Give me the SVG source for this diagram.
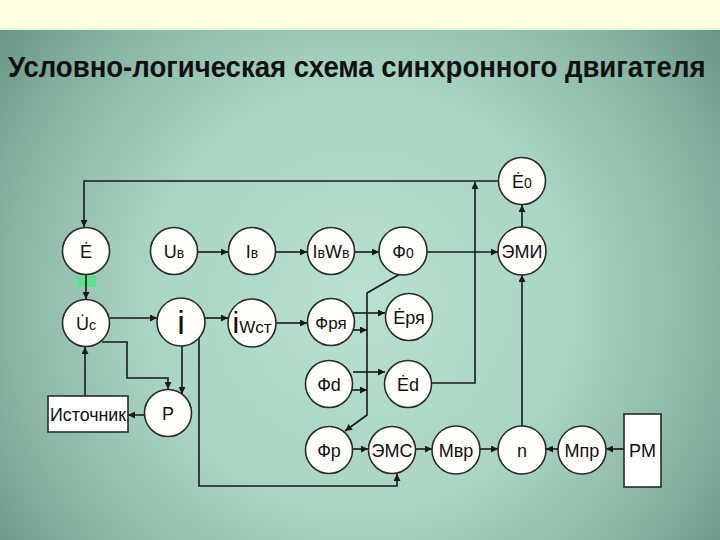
<svg xmlns="http://www.w3.org/2000/svg" width="720" height="540" viewBox="0 0 720 540">
  <defs>
    <radialGradient id="bg" gradientUnits="userSpaceOnUse" cx="360" cy="300" r="470">
      <stop offset="0" stop-color="#b8e1cf"/>
      <stop offset="0.45" stop-color="#a9d5c2"/>
      <stop offset="0.75" stop-color="#89b5a3"/>
      <stop offset="1" stop-color="#63907e"/>
    </radialGradient>
    <marker id="ah" viewBox="0 0 10 10" refX="10" refY="5" markerWidth="9" markerHeight="7" markerUnits="userSpaceOnUse" orient="auto">
      <path d="M0,0 L10,5 L0,10 Z" fill="#1a1a1a"/>
    </marker>
  </defs>
  <style>
    .n circle { fill: #fffffa; stroke: #2a2a2a; stroke-width: 1.6; }
    .n rect { fill: #ffffff; stroke: #2a2a2a; stroke-width: 1.6; }
    text { font-family: "Liberation Sans", Arial, sans-serif; fill: #111; }
    .lb { font-size: 18px; text-anchor: middle; }
    .sm { font-size: 14px; }
    #edges path { fill: none; stroke: #1a1a1a; stroke-width: 1.6; }
    #edges path.a { marker-end: url(#ah); }
  </style>

  <rect x="0" y="0" width="720" height="540" fill="url(#bg)"/>
  <rect x="0" y="0" width="720" height="28" fill="#ffffe0"/>
  <rect x="0" y="28" width="720" height="2" fill="#eef2d8"/>
  <rect x="77" y="276" width="19" height="11" fill="#5fe08c"/>

  <text transform="translate(8,77) scale(0.93,1)" x="0" y="0" style="font-size:29px;font-weight:bold" textLength="750" lengthAdjust="spacingAndGlyphs">Условно-логическая схема синхронного двигателя</text>

  <g id="edges">
    <path class="a" d="M498,181 H84 V227"/>
    <path class="a" d="M86,274 V299"/>
    <path class="a" d="M198,252 H228"/>
    <path class="a" d="M276,252 H307"/>
    <path class="a" d="M355,252 H379"/>
    <path class="a" d="M427,252 H498"/>
    <path class="a" d="M522,227 V205"/>
    <path class="a" d="M522,426 V275"/>
    <path class="a" d="M432,383 H475 V182"/>
    <path class="a" d="M400,274 L367,293 V415 L345,431"/>
    <path class="a" d="M353,313 H385"/>
    <path class="a" d="M349,330 H367"/>
    <path class="a" d="M353,372 H385"/>
    <path class="a" d="M352,390 H367"/>
    <path class="a" d="M110,318 H157"/>
    <path class="a" d="M205,318 H228"/>
    <path class="a" d="M276,323 H307"/>
    <path class="a" d="M102,342 H127 V378 H168 V389"/>
    <path class="a" d="M182,346 V394"/>
    <path class="a" d="M145,415 H128"/>
    <path class="a" d="M85,396 V347"/>
    <path class="a" d="M199,338 V486 H397 V474"/>
    <path class="a" d="M353,449 H368"/>
    <path class="a" d="M416,449 H432"/>
    <path class="a" d="M480,449 H498"/>
    <path class="a" d="M558,449 H546"/>
    <path class="a" d="M624,449 H606"/>
  </g>

  <g id="nE" class="n"><circle cx="86" cy="251" r="23.5"/><text class="lb" x="86" y="258">Ė</text></g>
  <g id="nUv" class="n"><circle cx="174" cy="251" r="23.5"/><text class="lb" x="174" y="258">U<tspan class="sm">в</tspan></text></g>
  <g id="nIv" class="n"><circle cx="252" cy="251" r="23.5"/><text class="lb" x="252" y="258">I<tspan class="sm">в</tspan></text></g>
  <g id="nIvWv" class="n"><circle cx="331" cy="251" r="23.5"/><text class="lb" x="331" y="258">I<tspan class="sm">в</tspan>W<tspan class="sm">в</tspan></text></g>
  <g id="nF0" class="n"><circle cx="403" cy="251" r="24"/><text class="lb" x="403" y="258">Ф<tspan class="sm">0</tspan></text></g>
  <g id="nEMI" class="n"><circle cx="522" cy="251" r="24"/><text class="lb" x="522" y="258">ЭМИ</text></g>
  <g id="nE0" class="n"><circle cx="522" cy="181" r="23.5"/><text class="lb" x="522" y="188">Ė<tspan class="sm">0</tspan></text></g>
  <g id="nUc" class="n"><circle cx="86" cy="323" r="23.5"/><text class="lb" x="86" y="330">U̇<tspan class="sm">c</tspan></text></g>
  <g id="ni" class="n"><circle cx="181" cy="322" r="24"/><text class="lb" x="181" y="334" style="font-size:34px">i</text></g>
  <g id="niWst" class="n"><circle cx="252" cy="323" r="24"/><text class="lb" x="252" y="333"><tspan style="font-size:30px">i</tspan><tspan style="font-size:17px">Wст</tspan></text></g>
  <g id="nFra" class="n"><circle cx="331" cy="322" r="23.5"/><text class="lb" x="331" y="329" style="font-size:17px">Фря</text></g>
  <g id="nEra" class="n"><circle cx="409" cy="317" r="23.5"/><text class="lb" x="409" y="324">Ėря</text></g>
  <g id="nFd" class="n"><circle cx="329" cy="384" r="23.5"/><text class="lb" x="329" y="391">Фd</text></g>
  <g id="nEd" class="n"><circle cx="408" cy="384" r="23.5"/><text class="lb" x="408" y="391">Ėd</text></g>
  <g id="nP" class="n"><circle cx="168" cy="413" r="23.5"/><text class="lb" x="168" y="420">Р</text></g>
  <g id="nSrc" class="n"><rect x="48" y="396" width="80" height="36"/><text class="lb" x="88" y="421" textLength="76" lengthAdjust="spacingAndGlyphs">Источник</text></g>
  <g id="nFr" class="n"><circle cx="329" cy="450" r="23.5"/><text class="lb" x="329" y="457">Фр</text></g>
  <g id="nEMS" class="n"><circle cx="392" cy="450" r="23.5"/><text class="lb" x="392" y="457">ЭМС</text></g>
  <g id="nMvr" class="n"><circle cx="456" cy="450" r="24"/><text class="lb" x="456" y="457">Мвр</text></g>
  <g id="nn" class="n"><circle cx="522" cy="450" r="24"/><text class="lb" x="522" y="457">n</text></g>
  <g id="nMpr" class="n"><circle cx="582" cy="450" r="24"/><text class="lb" x="582" y="457">Мпр</text></g>
  <g id="nPM" class="n"><rect x="624" y="414" width="37" height="73"/><text class="lb" x="642.5" y="457">РМ</text></g>
</svg>
